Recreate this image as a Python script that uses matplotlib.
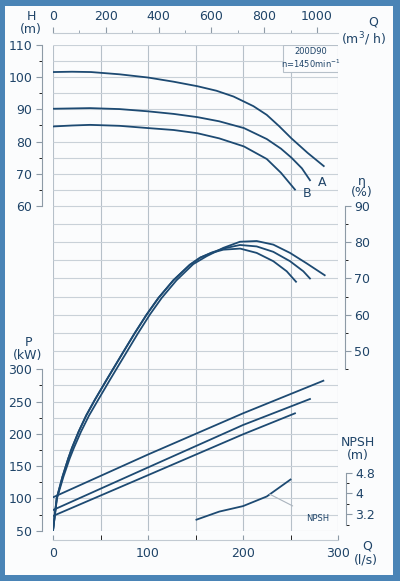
import numpy as np
import matplotlib.pyplot as plt
from matplotlib.patches import Rectangle

# ---- data (Q in l/s) ----
# head curves H (m)
qH_a = [0, 20, 40, 70, 100, 127, 152, 172, 190, 211, 225, 238, 251, 268, 285]
H_a = [101.6, 101.7, 101.6, 100.9, 99.9, 98.6, 97.2, 95.8, 94.0, 91.0, 88.3, 84.8, 81.0, 76.5, 72.4]
qH_b = [0, 39, 70, 100, 127, 152, 175, 201, 225, 240, 251, 262, 270.5]
H_b = [90.2, 90.4, 90.1, 89.4, 88.6, 87.6, 86.3, 84.2, 80.8, 77.8, 75.0, 71.7, 68.0]
qH_c = [0, 20, 39, 70, 100, 127, 152, 175, 201, 225, 240, 254.7]
H_c = [84.7, 85.0, 85.2, 84.9, 84.2, 83.6, 82.6, 81.0, 78.5, 74.6, 70.3, 65.1]

# efficiency curves eta (%)
qE_a = [0, 4.2, 11, 17.5, 22, 29.5, 38, 47.5, 60, 67.5, 77.6, 89, 102, 114.4, 130, 147.7, 161.8,
        179.3, 196.8, 214.4, 231.9, 249.5, 267, 286]
E_a = [0, 9.0, 15.0, 20.0, 23.0, 27.5, 32.0, 36.3, 41.9, 45.2, 49.6, 54.6, 60.0, 64.6, 69.5, 74.0, 76.2,
       78.5, 80.2, 80.4, 79.4, 77.1, 74.2, 70.9]
qE_b = [0, 3.9, 10, 16, 20, 27, 35, 44, 56.5, 64, 74, 85.5, 98.6, 111, 126.7, 144, 155, 167,
        179.3, 196.8, 214.4, 231.9, 249.5, 263.5, 270.5]
E_b = [0, 9.0, 15.0, 20.0, 23.0, 27.5, 32.0, 36.3, 41.9, 45.2, 49.6, 54.6, 60.0, 64.6, 69.5, 73.8, 75.8,
       77.2, 78.3, 79.3, 78.9, 77.4, 74.8, 72.0, 70.0]
qE_c = [0, 3.9, 10, 16, 20, 27, 35, 44, 56.5, 64, 74, 85.5, 98.6, 111, 126.7, 144, 155, 167,
        179.3, 197, 214.4, 231.9, 246, 255.8]
E_c = [0, 9.0, 15.0, 20.0, 23.0, 27.5, 32.0, 36.3, 41.9, 45.2, 49.6, 54.6, 60.0, 64.6, 69.5, 73.8, 75.8,
       77.1, 78.0, 78.3, 77.1, 74.8, 72.0, 69.1]

# power curves P (kW)
qP_a = [0, 100, 200, 284.6]
P_a = [101.7, 168.0, 231.8, 282.3]
qP_b = [0, 100, 200, 270.5]
P_b = [82.0, 148.0, 213.7, 254.0]
qP_c = [0, 100, 200, 254.7]
P_c = [72.8, 136.0, 199.3, 231.8]

# NPSH (m)
qN = [151, 175, 200, 225, 250]
NPSH = [2.99, 3.30, 3.51, 3.88, 4.53]

curve = '#1d4a72'
txt = '#1f4468'
spc = '#8d9aa6'
W, HP = 400, 581

fig = plt.figure(figsize=(4, 5.81), dpi=100)
fig.patch.set_facecolor('#4a84b6')
fig.patches.append(Rectangle((5 / W, 6 / HP), 388 / W, 569 / HP, transform=fig.transFigure,
                             facecolor='#fbfcfd', edgecolor='none', zorder=-5))

x0, x1, yt, yb = 53, 338, 45, 530.7
axP = fig.add_axes([x0 / W, 1 - yb / HP, (x1 - x0) / W, (yb - yt) / HP])
axP.patch.set_visible(False)
axH = axP.twinx()
axE = axP.twinx()
axN = axP.twinx()

hpx = yb - yt
axP.set_xlim(0, 300)
axP.set_ylim(50, 50 + hpx / 0.6456)
axH.set_ylim(110 - hpx / 3.22, 110)
axE.set_ylim(0, hpx / 3.603)
axN.set_ylim(3.2 - (yb - 514.2) / 26.06, 3.2 - (yb - 514.2) / 26.06 + hpx / 26.06)

for a in (axP, axH, axE, axN):
    for s in a.spines.values():
        s.set_visible(False)
    a.tick_params(colors=spc, labelcolor=txt, labelsize=9, width=0.8)

# grid
axP.vlines(np.arange(0, 301, 50), 50, axP.get_ylim()[1], color='#b6c0c9', lw=0.8, zorder=0)
axH.hlines(np.arange(60, 111, 5), 0, 300, color='#c9d1d8', lw=0.8, zorder=0)
axE.hlines(np.arange(45, 90, 5), 0, 300, color='#c9d1d8', lw=0.8, zorder=0)
axP.hlines(np.arange(50, 300, 25), 0, 300, color='#c9d1d8', lw=0.8, zorder=0)

# bottom axis (l/s)
axP.spines['bottom'].set_visible(True)
axP.spines['bottom'].set_position(('axes', -9.5 / hpx))
axP.spines['bottom'].set_bounds(0, 300)
axP.spines['bottom'].set_color('#c2cad2')
axP.set_xticks([0, 100, 200, 300])
axP.set_xticks([50, 150, 250], minor=True)
axP.tick_params(axis='x', which='both', direction='in', length=3.5, pad=5)

# top axis (m3/h)
sec = axP.secondary_xaxis(1 + 12 / hpx, functions=(lambda q: q * 3.6, lambda m: m / 3.6))
sec.set_xticks([0, 200, 400, 600, 800, 1000])
sec.set_xticks(np.arange(100, 1000, 200), minor=True)
sec.spines['top'].set_color('#c2cad2')
sec.spines['top'].set_bounds(0, 1080)
sec.tick_params(which='both', colors=spc, labelcolor=txt, labelsize=9)
sec.tick_params(which='major', length=4, pad=3)
sec.tick_params(which='minor', length=2.5)

# left: H and P
for a, lo, hi, maj, mnr in ((axH, 60, 110, np.arange(60, 111, 10), np.arange(65, 110, 10)),
                            (axP, 50, 300, np.arange(50, 301, 50), np.arange(75, 300, 50))):
    a.yaxis.set_ticks_position('left')
    a.spines['left'].set_visible(True)
    a.spines['left'].set_position(('axes', -11 / 285))
    a.spines['left'].set_bounds(lo, hi)
    a.spines['left'].set_color(spc)
    a.set_yticks(maj)
    a.set_yticks(mnr, minor=True)
    a.tick_params(axis='y', which='major', length=4.5, pad=2.5)
    a.tick_params(axis='y', which='minor', length=2.5)

# right: eta and NPSH
for a, off, lo, hi, maj, mnr in ((axE, 7, 45, 90, np.arange(50, 91, 10), np.arange(45, 90, 10)),
                                 (axN, 8, 2.8, 4.8, [3.2, 4, 4.8], [2.8, 3.6, 4.4])):
    a.spines['right'].set_visible(True)
    a.spines['right'].set_position(('axes', 1 + off / 285))
    a.spines['right'].set_bounds(lo, hi)
    a.spines['right'].set_color(spc)
    a.set_yticks(maj)
    a.set_yticks(mnr, minor=True)
    a.tick_params(axis='y', which='major', length=4, pad=2.5)
    a.tick_params(axis='y', which='minor', length=2.5)
axN.set_yticklabels(['3.2', '4', '4.8'])

lw = 1.3
axH.plot(qH_a, H_a, color=curve, lw=lw)
axH.plot(qH_b, H_b, color=curve, lw=lw)
axH.plot(qH_c, H_c, color=curve, lw=lw)
axE.plot(qE_a, E_a, color=curve, lw=lw)
axE.plot(qE_b, E_b, color=curve, lw=lw)
axE.plot(qE_c, E_c, color=curve, lw=lw)
axP.plot(qP_a, P_a, color=curve, lw=lw)
axP.plot(qP_b, P_b, color=curve, lw=lw)
axP.plot(qP_c, P_c, color=curve, lw=lw)
axN.plot(qN, NPSH, color=curve, lw=lw)
axN.annotate('NPSH', xy=(228, 3.97), xytext=(279, 3.02), fontsize=6, color=txt,
             ha='center', va='center',
             arrowprops=dict(arrowstyle='-', color='#aab4be', lw=0.8, shrinkA=9, shrinkB=0))

axH.text(283, 67.2, 'A', color=txt, fontsize=9, ha='center', va='center')
axH.text(267.5, 64.0, 'B', color=txt, fontsize=9, ha='center', va='center')

# info box
bx0 = (283.3 - x0) / 285
axH.add_patch(Rectangle((bx0, 1 - 26.7 / hpx), 1 - bx0, 26.7 / hpx, transform=axH.transAxes,
                        facecolor='#fbfcfd', edgecolor='#b6c0c9', lw=0.8, zorder=3))
fig.text(310.5 / W, 1 - 51.5 / HP, '200D90', fontsize=6, color=txt, ha='center', va='center', zorder=4)
fig.text(310.5 / W, 1 - 64 / HP, 'n=1450min$^{-1}$', fontsize=6, color=txt, ha='center', va='center', zorder=4)


def ftext(x, y, s, **kw):
    fig.text(x / W, 1 - y / HP, s, color=txt, fontsize=9, ha='center', va='center', **kw)


ftext(31, 16, 'H')
ftext(31, 30, '(m)')
ftext(373, 22, 'Q')
ftext(364, 39, '(m$^3$/ h)')
ftext(362, 181, 'η')
ftext(362, 193, '(%)')
ftext(28, 342, 'P')
ftext(28, 355, '(kW)')
ftext(358, 442, 'NPSH')
ftext(358, 455, '(m)')
ftext(367, 546, 'Q')
ftext(366, 560, '(l/s)')

fig.savefig('out.png', dpi=100, facecolor=fig.get_facecolor())
